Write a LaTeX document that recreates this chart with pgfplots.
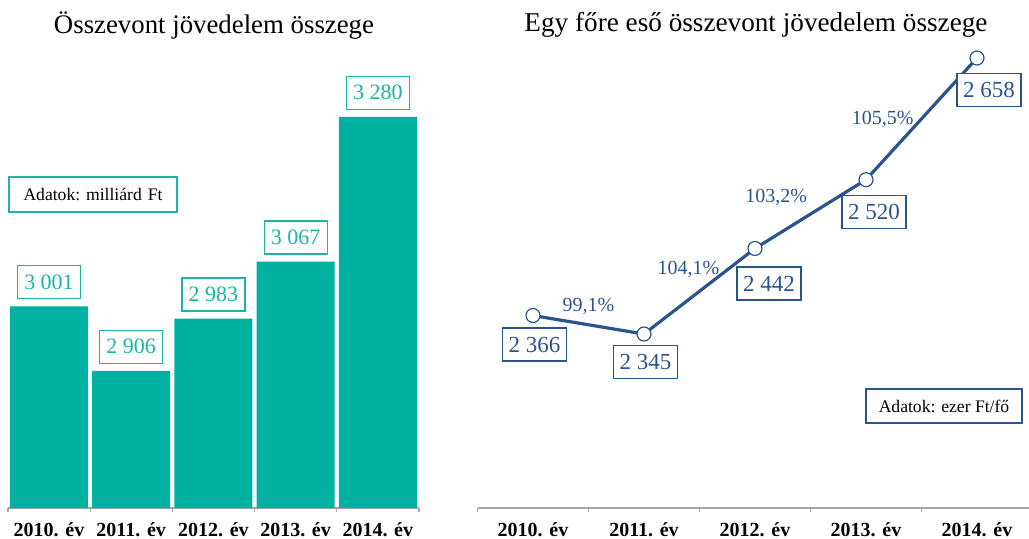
\documentclass[border=0pt]{standalone}
\usepackage{pgfplots}
\pgfplotsset{compat=1.18}
\usepackage{pgfplotstable}
\usepackage{fontspec}
\setmainfont{Liberation Serif}
\definecolor{barteal}{RGB}{0,176,160}
\definecolor{labteal}{RGB}{30,180,164}
\definecolor{lineblue}{RGB}{44,84,140}
\definecolor{axgray}{RGB}{166,166,166}

\pgfplotstableread{
x y lab
0 3001 {3 001}
1 2906 {2 906}
2 2983 {2 983}
3 3067 {3 067}
4 3280 {3 280}
}\bardata

\pgfplotstableread{
x y
0 2366
1 2345
2 2442
3 2520
4 2658
}\linedata

\pgfplotstableread{
x y lab
0.50 2376.8 {99,1\%}
1.40 2418.7 {104,1\%}
2.19 2500.4 {103,2\%}
3.15 2588.8 {105,5\%}
}\pctdata

\pgfplotsset{
  catax/.style={
    scale only axis, anchor=south west, clip=false,
    xmin=-0.5, xmax=4.5,
    axis x line*=bottom, hide y axis,
    axis line style={axgray, line width=0.6pt},
    xtick={0,1,2,3,4},
    xticklabels={2010. év,2011. év,2012. év,2013. év,2014. év},
    major tick length=0pt,
    xticklabel style={anchor=base, yshift=-14pt, font=\fontsize{10}{11}\bfseries},
    extra x ticks={-0.5,0.5,1.5,2.5,3.5,4.5},
    extra x tick labels={},
    extra x tick style={major tick length=2pt, tick align=outside, tick style={axgray, line width=0.6pt}},
  },
  vlab/.style 2 args={only marks, mark=none, point meta=explicit symbolic,
    nodes near coords,
    nodes near coords style={anchor=center, xshift=#1*0.5pt, yshift=#2*0.5pt,
      draw=lineblue, line width=0.6pt, fill=white, text=lineblue,
      minimum width=32pt, minimum height=16.5pt, inner sep=0pt,
      font=\fontsize{11.5}{12}\selectfont}},
}

\begin{document}
\begin{tikzpicture}
% left: bars
\begin{axis}[catax,
  at={(3.95pt,15pt)}, width=205.5pt, height=236.3pt,
  ymin=2704, ymax=3400,
  point meta=explicit symbolic,
  nodes near coords,
  nodes near coords style={anchor=south, yshift=3.5pt, draw=labteal, line width=0.6pt,
    fill=white, text=labteal, minimum width=31.5pt, minimum height=16.5pt, inner sep=0pt,
    font=\fontsize{11}{12}\selectfont},
]
\addplot[ybar, bar width=0.95, fill=barteal, draw=none] table[x=x, y=y, meta=lab] {\bardata};
\end{axis}

% right: line
\begin{axis}[catax,
  at={(238.75pt,15pt)}, width=277.5pt, height=234.7pt,
  ymin=2147.7, ymax=2680,
]
\addplot[lineblue, line width=1.6pt, mark=*, mark size=3.5pt,
  mark options={fill=white, draw=lineblue, line width=0.6pt}]
  table[x=x, y=y] {\linedata};
\addplot[vlab={1.5}{-29}] coordinates {(0,2366) [2 366]};
\addplot[vlab={1.5}{-28}] coordinates {(1,2345) [2 345]};
\addplot[vlab={14}{-35}] coordinates {(2,2442) [2 442]};
\addplot[vlab={8}{-32}] coordinates {(3,2520) [2 520]};
\addplot[vlab={12}{-32}] coordinates {(4,2658) [2 658]};
\addplot[only marks, mark=none, point meta=explicit symbolic,
  nodes near coords,
  nodes near coords style={anchor=center, text=lineblue, inner sep=0pt,
    font=\fontsize{10}{11}\selectfont},
] table[x=x, y=y, meta=lab] {\pctdata};
\end{axis}

% titles and unit boxes
\node[anchor=base, font=\fontsize{13.4}{15}\selectfont] at (107pt,252.5pt) {Összevont jövedelem összege};
\node[anchor=base, font=\fontsize{13.6}{15}\selectfont] at (378pt,253.5pt) {Egy főre eső összevont jövedelem összege};
\node[draw=labteal, line width=0.6pt, minimum width=84pt, minimum height=17.5pt, inner sep=0pt,
  font=\fontsize{8.8}{10}\selectfont] at (46.5pt,171.75pt) {Adatok: milliárd\hspace{3pt}Ft};
\node[draw=lineblue, line width=0.6pt, minimum width=78pt, minimum height=17pt, inner sep=0pt,
  font=\fontsize{8.8}{10}\selectfont] at (472pt,66pt) {Adatok: ezer Ft/fő};

\pgfresetboundingbox
\useasboundingbox (0,0) rectangle (514.5pt,269pt);
\end{tikzpicture}
\end{document}
